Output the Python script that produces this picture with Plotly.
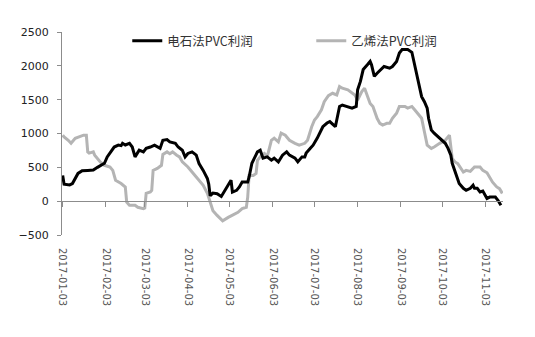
import pandas as pd
import plotly.graph_objects as go

start_date = "2017-01-03"
end_date = "2017-11-15"

# days after 2017-01-03
carbide_days = [0, 1, 5, 7, 11, 14, 18, 22, 25, 29, 30, 32, 35, 37, 40, 42, 43, 45, 48, 50,
                52, 55, 58, 60, 63, 66, 70, 72, 75, 77, 81, 83, 86, 88, 90, 93, 96, 98, 101, 104,
                105, 106, 108, 111, 114, 118, 121, 122, 125, 127, 129, 133, 134, 136, 138, 140, 142, 144, 147, 150,
                152, 155, 158, 161, 163, 167, 169, 172, 174, 175, 178, 180, 183, 185, 187, 190, 192, 196, 198, 199,
                201, 205, 208, 211, 212, 214, 216, 219, 221, 222, 224, 226, 229, 231, 235, 237, 240, 242, 244, 248,
                251, 252, 253, 254, 255, 257, 258, 260, 262, 263, 264, 265, 267, 271, 275, 277, 279, 280, 283, 285,
                288, 290, 293, 295, 296, 298, 300, 302, 305, 307, 311, 313, 315]
carbide_profit = [380, 250, 240, 260, 410, 450, 455, 460, 500, 540, 560, 654, 753, 800, 828, 820, 855, 830, 855, 800,
                  654, 753, 728, 780, 800, 828, 780, 900, 910, 875, 855, 800, 753, 654, 705, 728, 680, 555, 455, 335,
                  250, 80, 120, 110, 70, 210, 310, 135, 160, 210, 282, 282, 357, 560, 635, 728, 753, 635, 654, 605,
                  635, 580, 680, 728, 680, 635, 580, 654, 654, 710, 783, 828, 932, 1025, 1100, 1155, 1175, 1100, 1275, 1400,
                  1420, 1400, 1375, 1400, 1645, 1770, 1945, 2015, 2065, 2015, 1845, 1890, 1945, 1990, 1965, 1990, 2065, 2190, 2240, 2240,
                  2200, 2100, 2020, 1945, 1825, 1620, 1545, 1470, 1375, 1225, 1125, 1050, 1005, 930, 855, 780, 680, 560, 380, 260,
                  190, 160, 190, 235, 190, 190, 135, 150, 40, 60, 60, 10, -60]

ethylene_days = [0, 1, 4, 6, 9, 12, 15, 17, 18, 19, 22, 23, 25, 27, 30, 34, 36, 38, 42, 45,
                 46, 48, 52, 54, 58, 59, 60, 63, 64, 65, 68, 71, 72, 75, 77, 79, 82, 84, 86, 90,
                 93, 97, 101, 104, 106, 108, 111, 115, 119, 122, 126, 129, 132, 133, 134, 137, 139, 140, 143, 145,
                 147, 150, 152, 155, 157, 160, 163, 167, 170, 174, 176, 179, 181, 183, 186, 188, 191, 194, 197, 199,
                 201, 205, 208, 210, 212, 215, 217, 221, 223, 226, 228, 230, 233, 235, 237, 240, 242, 246, 248, 251,
                 253, 255, 258, 260, 262, 265, 267, 271, 275, 278, 280, 282, 284, 288, 290, 293, 296, 300, 302, 305,
                 307, 309, 312, 314, 316]
ethylene_profit = [975, 950, 900, 855, 930, 950, 975, 975, 728, 710, 728, 680, 635, 580, 530, 505, 455, 310, 260, 210,
                   -15, -60, -60, -90, -110, -100, 115, 135, 160, 455, 485, 530, 690, 728, 700, 728, 680, 654, 580, 505,
                   430, 335, 235, 115, -15, -140, -210, -290, -240, -210, -165, -110, -90, 60, 380, 380, 410, 605, 680, 705,
                   654, 900, 930, 875, 1005, 975, 900, 855, 828, 855, 900, 1100, 1200, 1250, 1350, 1470, 1560, 1595, 1570, 1695,
                   1670, 1645, 1595, 1570, 1495, 1620, 1670, 1445, 1400, 1225, 1150, 1125, 1150, 1150, 1225, 1300, 1400, 1400, 1375, 1400,
                   1350, 1300, 1225, 1025, 828, 780, 800, 855, 900, 975, 630, 580, 555, 430, 455, 440, 505, 505, 455, 420,
                   355, 280, 210, 185, 115]

tick_dates = ["2017-01-03", "2017-02-03", "2017-03-03", "2017-04-03", "2017-05-03", "2017-06-03",
              "2017-07-03", "2017-08-03", "2017-09-03", "2017-10-03", "2017-11-03"]
y_ticks = [-500, 0, 500, 1000, 1500, 2000, 2500]

series_names = ["电石法PVC利润", "乙烯法PVC利润"]

base = pd.Timestamp(start_date)
carbide_dates = base + pd.to_timedelta(carbide_days, unit="D")
ethylene_dates = base + pd.to_timedelta(ethylene_days, unit="D")

axis_gray = "#8c8c8c"

fig = go.Figure()
fig.add_trace(go.Scatter(x=carbide_dates, y=carbide_profit, name=series_names[0], mode="lines",
                         line=dict(color="#000000", width=3), xaxis="x2", yaxis="y"))
fig.add_trace(go.Scatter(x=ethylene_dates, y=ethylene_profit, name=series_names[1], mode="lines",
                         line=dict(color="#b4b4b4", width=3), xaxis="x", yaxis="y"))

x_range = [pd.Timestamp("2017-01-02 12:00"), pd.Timestamp(end_date) + pd.Timedelta(hours=12)]

fig.update_layout(
    width=535, height=337,
    margin=dict(l=62, r=32, t=32, b=102),
    plot_bgcolor="white", paper_bgcolor="white",
    font=dict(family="DejaVu Sans, Noto Sans CJK SC", color="#222222"),
    showlegend=True,
    legend=dict(orientation="h", x=0.148, y=0.955, xanchor="left", yanchor="middle",
                font=dict(family="Noto Sans CJK SC", size=12.5, color="#333333"),
                entrywidth=139, entrywidthmode="pixels",
                bgcolor="rgba(0,0,0,0)", itemwidth=30, tracegroupgap=0),
    xaxis=dict(type="date", range=x_range, tickvals=tick_dates, tickformat="%Y-%m-%d",
               tickangle=90, showline=False, ticks="", showgrid=False, zeroline=False,
               ticklabelstandoff=12, tickfont=dict(family="DejaVu Sans", size=10, color="#555555")),
    xaxis2=dict(type="date", overlaying="x", matches="x", anchor="free", position=1/6,
                tickvals=tick_dates, showticklabels=False, showline=True, linecolor=axis_gray,
                linewidth=1, ticks="outside", ticklen=5, tickcolor=axis_gray, showgrid=False,
                zeroline=False),
    yaxis=dict(range=[-500, 2500], tickvals=y_ticks, showline=True, linecolor=axis_gray,
               linewidth=1, ticks="outside", ticklen=4, tickcolor=axis_gray, showgrid=False,
               zeroline=False, ticklabelstandoff=6,
               tickfont=dict(family="DejaVu Sans", size=11, color="#222222")),
)

fig.write_html("out.html")
